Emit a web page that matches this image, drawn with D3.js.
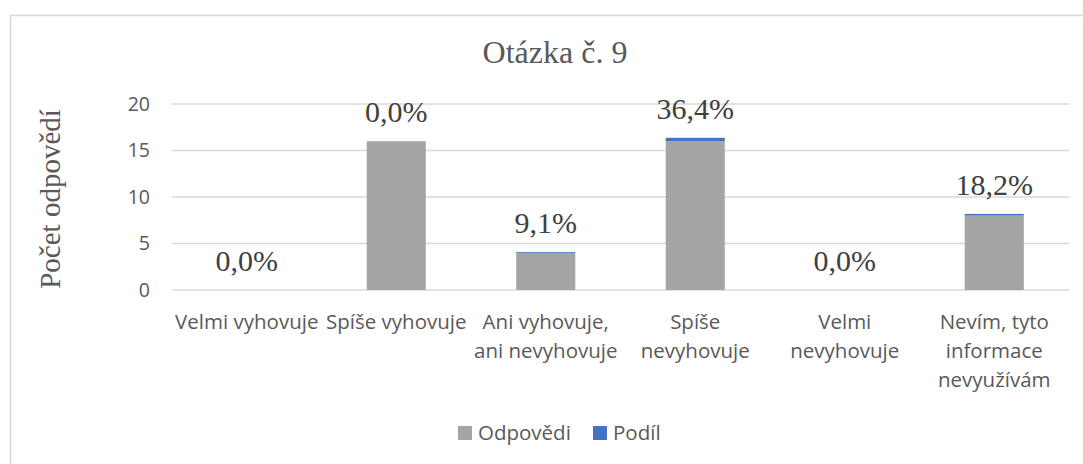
<!DOCTYPE html>
<html>
<head>
<meta charset="utf-8">
<script src="https://cdn.jsdelivr.net/npm/d3@7"></script>
<style>
  html, body { margin: 0; padding: 0; background: #fff; }
  svg { display: block; }
</style>
</head>
<body>
<svg id="chart" width="1083" height="464"></svg>
<script>
const categories = ["Velmi vyhovuje", "Spíše vyhovuje", "Ani vyhovuje, ani nevyhovuje", "Spíše nevyhovuje", "Velmi nevyhovuje", "Nevím, tyto informace nevyužívám"];
const odpovedi = [0, 16, 4, 16, 0, 8];
const podil = [0, 0, 0.091, 0.364, 0, 0.182];
const podilLabels = ["0,0%", "0,0%", "9,1%", "36,4%", "0,0%", "18,2%"];
const yTicks = [0, 5, 10, 15, 20];
const seriesNames = ["Odpovědi", "Podíl"];
const colors = ["#a5a5a5", "#4472c4"];

const svg = d3.select("#chart");
const plot = { left: 172, right: 1069, top: 104, bottom: 290 };
const sans = "'Open Sans', sans-serif";
const serif = "'Liberation Serif', 'Times New Roman', serif";

// outer border
svg.append("rect").attr("x", 10.5).attr("y", 15.5).attr("width", 1100).attr("height", 500)
  .attr("fill", "#fff").attr("stroke", "#d9d9d9").attr("stroke-width", 1.5);

const x = d3.scaleBand().domain(categories).range([plot.left, plot.right]).paddingInner(0.605).paddingOuter(0.3025);
const y = d3.scaleLinear().domain([0, 20]).range([plot.bottom, plot.top]);

// gridlines
svg.append("g").selectAll("line").data(yTicks).join("line")
  .attr("x1", plot.left).attr("x2", plot.right)
  .attr("y1", d => y(d)).attr("y2", d => y(d))
  .attr("stroke", "#d9d9d9").attr("stroke-width", 1.5);

// y tick labels
const yAxis = d3.axisLeft(y).tickValues(yTicks).tickSize(0).tickPadding(0);
const ga = svg.append("g").attr("transform", `translate(${150},0)`).call(yAxis);
ga.select(".domain").remove();
ga.selectAll("text").attr("font-family", sans).attr("font-size", 19.5).attr("fill", "#595959");

// stacked data
const rows = categories.map((c, i) => ({ cat: c, Odpovědi: odpovedi[i], Podíl: podil[i] }));
const stack = d3.stack().keys(seriesNames)(rows);

svg.append("g").selectAll("g").data(stack).join("g")
  .attr("fill", (d, i) => colors[i])
  .selectAll("rect").data(d => d).join("rect")
  .attr("x", d => x(d.data.cat))
  .attr("width", x.bandwidth())
  .attr("y", d => y(d[1]))
  .attr("height", d => y(d[0]) - y(d[1]));

// data labels
svg.append("g").selectAll("text").data(rows).join("text")
  .attr("x", d => x(d.cat) + x.bandwidth() / 2)
  .attr("y", (d, i) => y(odpovedi[i] + podil[i]) - 19)
  .attr("text-anchor", "middle")
  .attr("font-family", serif)
  .attr("font-size", 30)
  .attr("fill", "#404040")
  .text((d, i) => podilLabels[i]);

// category labels with wrapping
const catG = svg.append("g");
const wrapWidth = x.step() + 4;
categories.forEach(c => {
  const cx = x(c) + x.bandwidth() / 2;
  const t = catG.append("text")
    .attr("x", cx)
    .attr("y", 329)
    .attr("text-anchor", "middle")
    .attr("font-family", sans)
    .attr("font-size", 20.5)
    .attr("fill", "#595959");
  const words = c.split(" ");
  let line = [];
  let tspan = t.append("tspan").attr("x", cx).attr("dy", 0);
  words.forEach(w => {
    line.push(w);
    tspan.text(line.join(" "));
    if (tspan.node().getComputedTextLength() > wrapWidth && line.length > 1) {
      line.pop();
      tspan.text(line.join(" "));
      line = [w];
      tspan = t.append("tspan").attr("x", cx).attr("dy", 29).text(w);
    }
  });
});

// title
svg.append("text").attr("x", 555).attr("y", 63).attr("text-anchor", "middle")
  .attr("font-family", serif)
  .attr("font-size", 32).attr("fill", "#595959").text("Otázka č. 9");

// y axis title
svg.append("text")
  .attr("transform", `translate(60, ${(plot.top + plot.bottom) / 2 + 2}) rotate(-90)`)
  .attr("text-anchor", "middle")
  .attr("font-family", serif)
  .attr("font-size", 29).attr("fill", "#595959").text("Počet odpovědí");

// legend
const legend = svg.append("g");
const legendItems = [
  { name: seriesNames[0], color: colors[0], x: 458 },
  { name: seriesNames[1], color: colors[1], x: 593 }
];
legendItems.forEach(it => {
  legend.append("rect").attr("x", it.x).attr("y", 426).attr("width", 14).attr("height", 14).attr("fill", it.color);
  legend.append("text").attr("x", it.x + 20).attr("y", 440)
    .attr("font-family", sans).attr("font-size", 20.5).attr("fill", "#595959").text(it.name);
});
</script>
</body>
</html>
